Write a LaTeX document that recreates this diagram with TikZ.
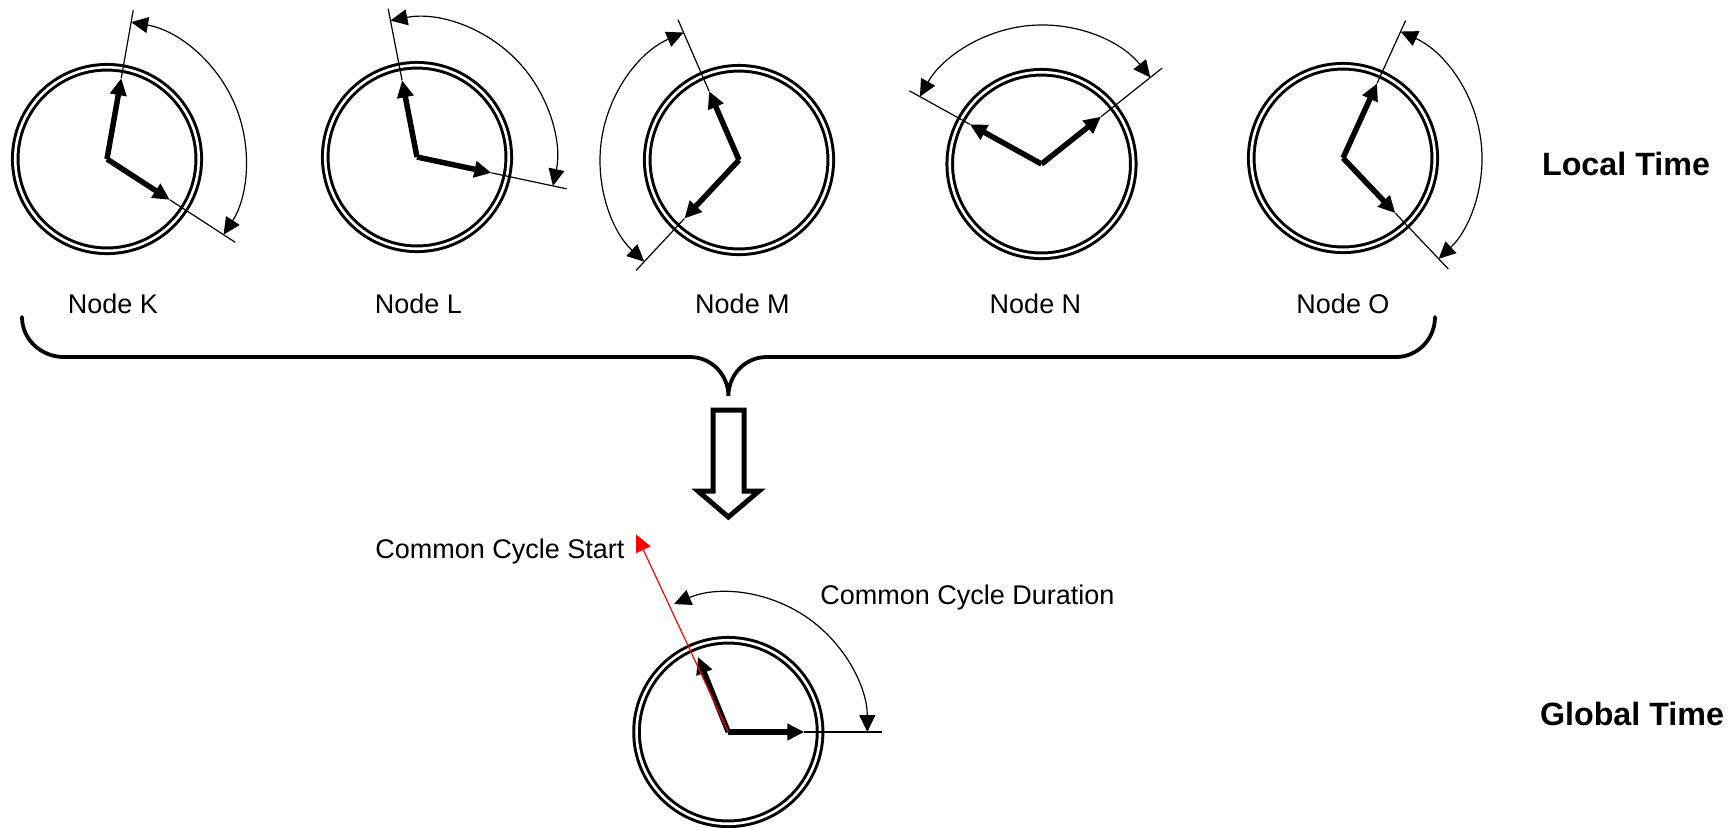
\documentclass[tikz,border=0pt]{standalone}
\usepackage{fontspec}
\setmainfont{Liberation Sans}
\usetikzlibrary{arrows.meta}
\begin{document}
\begin{tikzpicture}
[x=0.010023cm,y=0.010023cm,>={Triangle[length=1.7mm,width=1.6mm]},
clock/.style={draw,circle,double,line width=0.03cm,double distance=0.026cm,inner sep=0pt,minimum size=1.84cm},
hand/.style={->,line width=0.055cm},
refline/.style={line width=0.012cm},
span/.style={<->,line width=0.012cm},
label/.style={anchor=base,font=\fontsize{7.7}{9}\selectfont},
title/.style={anchor=base,font=\fontsize{9.2}{11}\selectfont\bfseries},
]
\useasboundingbox (0,0) rectangle (1728,-827);

%Node K
\node (K) at (107,-159)[clock] {};
\coordinate (K1) at ([shift={(80:82)}]K.center);
\coordinate (K2) at ([shift={(-33:75)}]K.center);
\draw[hand] (K.center) -- (K1);
\draw[hand] (K.center) -- (K2);
\draw[refline] (K1) -- ([shift={(80:151)}]K.center);
\draw[refline] (K2) -- ([shift={(-33:153)}]K.center);
\draw[span] ([shift={(80:139)}]K.center) arc[start angle=80,end angle=-33,radius=139];
\node (Klabel) at (113,-313)[label] {Node K};

%Node L
\node (L) at (417,-157)[clock] {};
\coordinate (L1) at ([shift={(101:78)}]L.center);
\coordinate (L2) at ([shift={(-12:76)}]L.center);
\draw[hand] (L.center) -- (L1);
\draw[hand] (L.center) -- (L2);
\draw[refline] (L1) -- ([shift={(101:151)}]L.center);
\draw[refline] (L2) -- ([shift={(-12:153)}]L.center);
\draw[span] ([shift={(101:139)}]L.center) arc[start angle=101,end angle=-12,radius=139];
\node (Llabel) at (418.5,-313)[label] {Node L};

%Node M
\node (M) at (739,-160)[clock] {};
\coordinate (M1) at ([shift={(113.5:75)}]M.center);
\coordinate (M2) at ([shift={(227:80)}]M.center);
\draw[hand] (M.center) -- (M1);
\draw[hand] (M.center) -- (M2);
\draw[refline] (M1) -- ([shift={(113.5:153)}]M.center);
\draw[refline] (M2) -- ([shift={(227:151)}]M.center);
\draw[span] ([shift={(113.5:139)}]M.center) arc[start angle=113.5,end angle=227,radius=139];
\node (Mlabel) at (742.5,-313)[label] {Node M};

%Node N
\node (N) at (1041.5,-164)[clock] {};
\coordinate (N1) at ([shift={(38.5:76)}]N.center);
\coordinate (N2) at ([shift={(151:82)}]N.center);
\draw[hand] (N.center) -- (N1);
\draw[hand] (N.center) -- (N2);
\draw[refline] (N1) -- ([shift={(38.5:154)}]N.center);
\draw[refline] (N2) -- ([shift={(151:151)}]N.center);
\draw[span] ([shift={(38.5:139)}]N.center) arc[start angle=38.5,end angle=151,radius=139];
\node (Nlabel) at (1035.5,-313)[label] {Node N};

%Node O
\node (O) at (1343,-158)[clock] {};
\coordinate (O1) at ([shift={(65.5:82)}]O.center);
\coordinate (O2) at ([shift={(-46.5:76)}]O.center);
\draw[hand] (O.center) -- (O1);
\draw[hand] (O.center) -- (O2);
\draw[refline] (O1) -- ([shift={(65.5:151)}]O.center);
\draw[refline] (O2) -- ([shift={(-46.5:153)}]O.center);
\draw[span] ([shift={(65.5:139)}]O.center) arc[start angle=65.5,end angle=-46.5,radius=139];
\node (Olabel) at (1343,-313)[label] {Node O};

%Brace
\draw[line width=0.038cm,line cap=round] (22,-317) to[out=-90,in=180] (64,-357) -- (690,-357)
  to[out=0,in=90] (728.4,-396) to[out=90,in=180] (766.7,-357) -- (1396,-357) to[out=0,in=-90] (1435,-317);

%Block arrow
\draw[line width=0.05cm] (713,-410) -- (744,-410) -- (744,-491) -- (759,-491) -- (728.4,-517)
  -- (698,-491) -- (713,-491) -- cycle;

%Global clock
\node (G) at (728.3,-732)[clock] {};
\coordinate (G1) at ([shift={(112:81)}]G.center);
\coordinate (G2) at ([shift={(0:76)}]G.center);
\coordinate (G3) at ([shift={(115:218)}]G.center);
\draw[hand] (G.center) -- (G1);
\draw[hand] (G.center) -- (G2);
\draw[->,red,line width=0.012cm] (G.center) -- (G3);
\draw[refline] (G2) -- ([shift={(0:154)}]G.center);
\draw[span] ([shift={(113:139)}]G.center) arc[start angle=113,end angle=0,radius=139];
\node (start) at (500,-558)[label] {Common Cycle Start};
\node (duration) at (967.5,-604)[label] {Common Cycle Duration};

%Titles
\node (local) at (1626,-175)[title] {Local Time};
\node (global) at (1632,-725)[title] {Global Time};

\end{tikzpicture}
\end{document}
